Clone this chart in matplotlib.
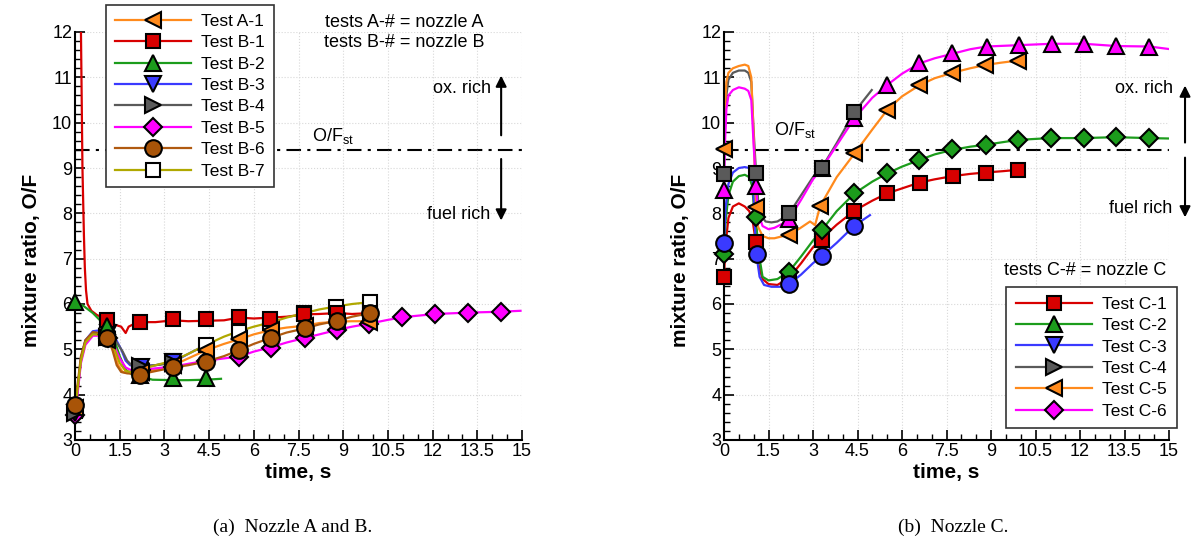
import matplotlib
matplotlib.use('Agg')
import matplotlib.pyplot as plt
from matplotlib.lines import Line2D
from matplotlib.ticker import MultipleLocator

plt.rcParams['font.family'] = ['Liberation Sans', 'DejaVu Sans']
plt.rcParams['mathtext.fontset'] = 'custom'
plt.rcParams['mathtext.rm'] = 'Liberation Sans'
plt.rcParams['mathtext.it'] = 'Liberation Sans'

OF_ST = 9.4

# ---------------- nozzle A and B (left) ----------------
t_a1 = [0, 0.1, 0.2, 0.35, 0.6, 0.9, 1.1, 1.3, 1.45, 1.6, 1.8, 2.2, 2.7, 3.3, 3.8, 4.4, 5.0, 5.5, 6.0, 6.6, 7.1, 7.7, 8.2, 8.8, 9.3, 9.9]
of_a1 = [3.7, 4.2, 4.75, 5.15, 5.33, 5.3, 5.2, 4.95, 4.65, 4.5, 4.48, 4.5, 4.55, 4.65, 4.8, 4.98, 5.12, 5.22, 5.33, 5.43, 5.48, 5.52, 5.58, 5.61, 5.62, 5.62]
tm_a1 = [0, 1.06, 2.2, 3.3, 4.38, 5.5, 6.59, 7.71, 8.79, 9.87]
om_a1 = [3.7, 5.2, 4.5, 4.65, 4.98, 5.22, 5.43, 5.51, 5.61, 5.61]

t_b1 = [0.2, 0.25, 0.3, 0.33, 0.37, 0.42, 0.55, 0.73, 1.08, 1.3, 1.55, 1.7, 1.8, 1.95, 2.2, 2.7, 3.3, 3.8, 4.4, 5.0, 5.5, 6.0, 6.6, 7.1, 7.7, 8.2, 8.8, 9.3, 9.9]
of_b1 = [12, 9, 7.5, 6.8, 6.3, 6.0, 5.85, 5.76, 5.65, 5.55, 5.5, 5.36, 5.5, 5.55, 5.6, 5.6, 5.64, 5.62, 5.63, 5.64, 5.7, 5.68, 5.7, 5.72, 5.77, 5.78, 5.8, 5.78, 5.8]
tm_b1 = [1.08, 2.18, 3.3, 4.38, 5.5, 6.56, 7.68, 8.8, 9.9]
om_b1 = [5.65, 5.61, 5.66, 5.66, 5.71, 5.68, 5.79, 5.8, 5.8]

t_b2 = [0, 0.3, 0.6, 0.9, 1.1, 1.3, 1.5, 1.7, 1.9, 2.2, 2.6, 3.3, 3.8, 4.4, 4.9]
of_b2 = [6.05, 5.95, 5.8, 5.6, 5.5, 5.25, 4.85, 4.55, 4.45, 4.4, 4.33, 4.32, 4.32, 4.33, 4.35]
tm_b2 = [0, 1.08, 2.18, 3.3, 4.38]
om_b2 = [6.05, 5.52, 4.43, 4.36, 4.37]

t_b3 = [0, 0.1, 0.2, 0.35, 0.6, 0.85, 1.1, 1.35, 1.55, 1.7, 1.85, 2.05, 2.2, 2.7, 3.3, 3.8, 4.4]
of_b3 = [3.6, 4.2, 4.8, 5.2, 5.4, 5.42, 5.35, 5.25, 5.0, 4.75, 4.65, 4.62, 4.62, 4.65, 4.72, 4.9, 5.1]
tm_b3 = [0, 1.1, 2.2, 3.3]
om_b3 = [3.6, 5.35, 4.62, 4.72]

t_b4 = [0, 0.1, 0.2, 0.35, 0.6, 0.85, 1.1, 1.35, 1.6, 1.75, 1.9, 2.2, 2.7, 3.3]
of_b4 = [3.6, 4.2, 4.8, 5.2, 5.35, 5.35, 5.3, 5.2, 4.95, 4.75, 4.65, 4.63, 4.65, 4.7]
tm_b4 = [0, 1.06, 2.18, 3.3]
om_b4 = [3.6, 5.28, 4.63, 4.69]

t_b5 = [0, 0.1, 0.2, 0.35, 0.6, 0.85, 1.1, 1.3, 1.5, 1.7, 1.85, 2.2, 2.7, 3.3, 3.8, 4.4, 5.0, 5.5, 6.0, 6.6, 7.1, 7.7, 8.2, 8.8, 9.3, 9.9, 10.5, 11.0, 12.1, 13.2, 14.3, 14.95]
of_b5 = [3.55, 4.1, 4.7, 5.1, 5.3, 5.3, 5.25, 5.1, 4.8, 4.6, 4.55, 4.55, 4.58, 4.62, 4.68, 4.75, 4.8, 4.84, 4.95, 5.05, 5.15, 5.25, 5.33, 5.43, 5.5, 5.57, 5.65, 5.71, 5.78, 5.81, 5.83, 5.85]
tm_b5 = [0, 1.1, 2.2, 3.3, 4.4, 5.5, 6.59, 7.71, 8.79, 9.87, 10.98, 12.09, 13.19, 14.28]
om_b5 = [3.55, 5.25, 4.55, 4.62, 4.75, 4.82, 5.04, 5.24, 5.43, 5.56, 5.71, 5.78, 5.81, 5.83]

t_b6 = [0, 0.1, 0.2, 0.35, 0.6, 0.9, 1.1, 1.25, 1.4, 1.55, 1.75, 2.2, 2.7, 3.3, 3.8, 4.4, 5.0, 5.5, 6.0, 6.6, 7.1, 7.7, 8.2, 8.8, 9.3, 9.9, 10.1]
of_b6 = [3.77, 4.3, 4.85, 5.2, 5.38, 5.35, 5.25, 5.0, 4.65, 4.5, 4.47, 4.45, 4.52, 4.6, 4.65, 4.73, 4.85, 4.98, 5.12, 5.26, 5.37, 5.46, 5.55, 5.63, 5.72, 5.8, 5.82]
tm_b6 = [0, 1.08, 2.18, 3.3, 4.38, 5.5, 6.59, 7.71, 8.79, 9.91]
om_b6 = [3.77, 5.25, 4.43, 4.62, 4.73, 4.98, 5.26, 5.46, 5.63, 5.81]

t_b7 = [0, 0.1, 0.2, 0.35, 0.6, 0.9, 1.1, 1.3, 1.5, 1.7, 1.9, 2.2, 2.7, 3.3, 3.8, 4.4, 5.0, 5.5, 6.0, 6.6, 7.1, 7.7, 8.2, 8.8, 9.3, 9.9, 10.1]
of_b7 = [3.65, 4.2, 4.75, 5.15, 5.33, 5.32, 5.25, 5.05, 4.7, 4.52, 4.5, 4.55, 4.65, 4.75, 4.9, 5.1, 5.28, 5.4, 5.5, 5.6, 5.7, 5.8, 5.88, 5.95, 6.0, 6.04, 6.05]
tm_b7 = [0, 1.08, 2.2, 3.3, 4.38, 5.5, 6.56, 7.68, 8.77, 9.89]
om_b7 = [3.65, 5.25, 4.55, 4.75, 5.09, 5.39, 5.59, 5.81, 5.94, 6.05]

labels_ab = ['Test A-1', 'Test B-1', 'Test B-2', 'Test B-3', 'Test B-4', 'Test B-5', 'Test B-6', 'Test B-7']

# ---------------- nozzle C (right) ----------------
t_c1 = [0, 0.05, 0.15, 0.3, 0.5, 0.7, 0.85, 0.95, 1.02, 1.08, 1.15, 1.3, 1.5, 1.8, 2.2, 2.6, 3.0, 3.3, 3.8, 4.4, 5.0, 5.5, 6.0, 6.6, 7.1, 7.7, 8.3, 8.8, 9.4, 9.9]
of_c1 = [6.6, 7.3, 7.9, 8.15, 8.22, 8.15, 8.05, 7.9, 7.6, 7.3, 6.9, 6.55, 6.44, 6.42, 6.58, 6.9, 7.25, 7.45, 7.75, 8.06, 8.28, 8.44, 8.55, 8.68, 8.75, 8.82, 8.87, 8.9, 8.93, 8.96]
tm_c1 = [0, 1.08, 2.2, 3.31, 4.39, 5.5, 6.6, 7.73, 8.83, 9.92]
om_c1 = [6.6, 7.37, 6.6, 7.41, 8.06, 8.44, 8.68, 8.82, 8.9, 8.96]

t_c2 = [0, 0.05, 0.15, 0.3, 0.5, 0.7, 0.85, 0.95, 1.0, 1.08, 1.15, 1.3, 1.5, 1.8, 2.2, 2.6, 3.0, 3.3, 3.8, 4.4, 5.0, 5.5, 6.0, 6.6, 7.1, 7.7, 8.3, 8.8, 9.9, 11.0, 12.1, 13.2, 14.3, 15.05]
of_c2 = [7.05, 7.8, 8.4, 8.7, 8.82, 8.85, 8.8, 8.6, 8.2, 7.9, 7.2, 6.6, 6.52, 6.55, 6.72, 7.05, 7.4, 7.63, 8.05, 8.44, 8.7, 8.88, 9.03, 9.18, 9.3, 9.4, 9.47, 9.51, 9.62, 9.66, 9.66, 9.68, 9.66, 9.65]
tm_c2 = [0, 1.08, 2.2, 3.31, 4.39, 5.48, 6.58, 7.7, 8.83, 9.92, 11.02, 12.13, 13.23, 14.33]
om_c2 = [7.1, 7.93, 6.71, 7.63, 8.44, 8.88, 9.18, 9.42, 9.51, 9.62, 9.66, 9.66, 9.68, 9.66]

t_c3 = [0, 0.05, 0.15, 0.3, 0.5, 0.7, 0.85, 0.95, 1.0, 1.05, 1.1, 1.2, 1.35, 1.6, 1.9, 2.2, 2.6, 3.0, 3.3, 3.8, 4.4, 4.92]
of_c3 = [7.35, 8.1, 8.65, 8.9, 9.0, 9.02, 9.0, 8.9, 8.4, 7.6, 7.05, 6.6, 6.42, 6.38, 6.38, 6.44, 6.65, 6.9, 7.06, 7.35, 7.73, 7.96]
tm_c3 = [0, 1.1, 2.2, 3.31, 4.39]
om_c3 = [7.34, 7.1, 6.44, 7.06, 7.73]

t_c4 = [0, 0.03, 0.08, 0.15, 0.3, 0.5, 0.7, 0.82, 0.92, 1.0, 1.08, 1.15, 1.25, 1.4, 1.6, 1.8, 2.0, 2.2, 2.6, 3.0, 3.3, 3.8, 4.4, 4.98]
of_c4 = [8.87, 9.8, 10.6, 10.95, 11.1, 11.15, 11.15, 11.1, 10.9, 9.8, 8.9, 8.3, 7.95, 7.82, 7.8, 7.82, 7.9, 8.0, 8.4, 8.8, 9.01, 9.55, 10.24, 10.72]
tm_c4 = [0, 1.08, 2.2, 3.31, 4.39]
om_c4 = [8.87, 8.9, 8.0, 9.01, 10.24]

t_c5 = [0, 0.03, 0.08, 0.15, 0.3, 0.5, 0.7, 0.82, 0.92, 1.0, 1.08, 1.15, 1.3, 1.5, 1.7, 2.0, 2.2, 2.56, 2.9, 3.07, 3.24, 3.8, 4.4, 5.0, 5.5, 6.0, 6.6, 7.1, 7.7, 8.3, 8.8, 9.3, 9.9]
of_c5 = [9.43, 10.3, 10.9, 11.1, 11.2, 11.25, 11.28, 11.25, 11.0, 9.7, 8.15, 7.7, 7.5, 7.45, 7.45, 7.5, 7.53, 7.67, 7.82, 7.74, 8.16, 8.8, 9.32, 9.85, 10.28, 10.58, 10.83, 10.98, 11.1, 11.2, 11.27, 11.32, 11.37]
tm_c5 = [0, 1.08, 2.2, 3.24, 4.39, 5.48, 6.58, 7.67, 8.79, 9.9]
om_c5 = [9.43, 8.15, 7.52, 8.16, 9.32, 10.28, 10.83, 11.1, 11.27, 11.37]

t_c6 = [0, 0.03, 0.08, 0.15, 0.3, 0.5, 0.7, 0.82, 0.92, 1.0, 1.08, 1.15, 1.3, 1.5, 1.7, 2.0, 2.2, 2.6, 3.0, 3.3, 3.8, 4.4, 5.0, 5.5, 6.0, 6.6, 7.1, 7.7, 8.3, 8.85, 9.95, 11.04, 12.14, 13.23, 14.34, 15.05]
of_c6 = [8.52, 9.5, 10.3, 10.6, 10.72, 10.78, 10.75, 10.7, 10.5, 9.5, 8.6, 8.0, 7.72, 7.65, 7.68, 7.78, 7.88, 8.3, 8.75, 9.0, 9.5, 10.1, 10.55, 10.83, 11.08, 11.31, 11.42, 11.52, 11.62, 11.68, 11.71, 11.74, 11.74, 11.69, 11.68, 11.62]
tm_c6 = [0, 1.08, 2.2, 3.3, 4.39, 5.48, 6.58, 7.7, 8.85, 9.95, 11.04, 12.14, 13.23, 14.34]
om_c6 = [8.52, 8.6, 7.88, 9.0, 10.1, 10.83, 11.31, 11.53, 11.68, 11.71, 11.74, 11.74, 11.69, 11.68]

labels_c = ['Test C-1', 'Test C-2', 'Test C-3', 'Test C-4', 'Test C-5', 'Test C-6']

# styles
orange, red, green, blue = '#ff8a1c', '#d80000', '#1c9c1c', '#3a3aff'
gray, magenta, brown, olive = '#5a5a5a', '#ff00ff', '#b05a10', '#b0a800'

style_ab = [(orange, '<', orange), (red, 's', red), (green, '^', green), (blue, 'v', blue),
            (gray, '>', gray), (magenta, 'D', magenta), (brown, 'o', '#a85408'), (olive, 's', 'white')]
data_ab = [(t_a1, of_a1, tm_a1, om_a1), (t_b1, of_b1, tm_b1, om_b1), (t_b2, of_b2, tm_b2, om_b2),
           (t_b3, of_b3, tm_b3, om_b3), (t_b4, of_b4, tm_b4, om_b4), (t_b5, of_b5, tm_b5, om_b5),
           (t_b6, of_b6, tm_b6, om_b6), (t_b7, of_b7, tm_b7, om_b7)]
order_ab = [7, 5, 3, 4, 1, 2, 0, 6]   # marker stacking order

# the plotted markers on nozzle C do not match its legend
style_c_plot = [(red, 's', red), (green, 'D', green), (blue, 'o', blue),
                (gray, 's', gray), (orange, '<', orange), (magenta, '^', magenta)]
style_c_leg = [(red, 's', red), (green, '^', green), (blue, 'v', blue),
               (gray, '>', gray), (orange, '<', orange), (magenta, 'D', magenta)]
data_c = [(t_c1, of_c1, tm_c1, om_c1), (t_c2, of_c2, tm_c2, om_c2), (t_c3, of_c3, tm_c3, om_c3),
          (t_c4, of_c4, tm_c4, om_c4), (t_c5, of_c5, tm_c5, om_c5), (t_c6, of_c6, tm_c6, om_c6)]
order_c = [5, 0, 1, 2, 4, 3]

msize = {'o': 12, 's': 10, 'D': 9, '<': 11, '>': 11, '^': 11, 'v': 11}

W, H = 1191, 542
fig = plt.figure(figsize=(W / 100, H / 100), dpi=100)
axL = fig.add_axes([75 / W, 1 - 440 / H, 447 / W, 408 / H])
axR = fig.add_axes([724 / W, 1 - 440 / H, 445 / W, 408 / H])


def setup(ax):
    ax.set_xlim(0, 15)
    ax.set_ylim(3, 12)
    ax.xaxis.set_minor_locator(MultipleLocator(0.5))
    ax.yaxis.set_major_locator(MultipleLocator(1))
    ax.yaxis.set_minor_locator(MultipleLocator(0.2))
    ax.set_xticks([0, 1.5, 3, 4.5, 6, 7.5, 9, 10.5, 12, 13.5, 15])
    ax.set_xticklabels(['0', '1.5', '3', '4.5', '6', '7.5', '9', '10.5', '12', '13.5', '15'])
    ax.tick_params(which='major', direction='in', length=7, width=1.2, labelsize=13, pad=2)
    ax.tick_params(which='minor', direction='in', length=4, width=1)
    for s in ['top', 'right']:
        ax.spines[s].set_visible(False)
    for s in ['left', 'bottom']:
        ax.spines[s].set_linewidth(1.5)
    ax.grid(True, which='major', color='#d8d8d8', ls=':', lw=0.8)
    ax.set_xlabel('time, s', fontsize=15, fontweight='bold', labelpad=2)
    ax.set_ylabel('mixture ratio, O/F', fontsize=15, fontweight='bold')
    ax.yaxis.set_label_coords(-0.076, 0.44)
    ax.axhline(OF_ST, color='k', lw=1.5, ls=(0, (7, 3, 1.5, 3)), zorder=1)


def draw(ax, data, styles, order):
    for (t, of, tm, om), (c, m, fc) in zip(data, styles):
        ax.plot(t, of, color=c, lw=1.6, zorder=2)
    for i in order:
        t, of, tm, om = data[i]
        c, m, fc = styles[i]
        ax.plot(tm, om, ls='none', marker=m, ms=msize[m], mfc=fc, mec='k', mew=1.5,
                clip_on=False, zorder=3)


def handles(styles):
    return [Line2D([], [], color=c, lw=1.6, marker=m, ms=msize[m], mfc=fc, mec='k', mew=1.5)
            for c, m, fc in styles]


setup(axL)
setup(axR)
draw(axL, data_ab, style_ab, order_ab)
draw(axR, data_c, style_c_plot, order_c)

# left annotations
axL.text(11.05, 12.22, 'tests A-# = nozzle A', ha='center', va='center', fontsize=13)
axL.text(11.05, 11.76, 'tests B-# = nozzle B', ha='center', va='center', fontsize=13)
axL.text(7.95, 9.6, r'O/F$_{\rm st}$', fontsize=13, va='baseline')
axL.annotate('', xy=(14.3, 11.1), xytext=(14.3, 9.66),
             arrowprops=dict(arrowstyle='-|>', color='k', lw=1.5, mutation_scale=16))
axL.annotate('', xy=(14.3, 7.78), xytext=(14.3, 9.26),
             arrowprops=dict(arrowstyle='-|>', color='k', lw=1.5, mutation_scale=16))
axL.text(13.95, 10.76, 'ox. rich', ha='right', va='center', fontsize=13)
axL.text(13.95, 7.98, 'fuel rich', ha='right', va='center', fontsize=13)

# right annotations
axR.text(12.17, 6.75, 'tests C-# = nozzle C', ha='center', va='center', fontsize=13)
axR.text(1.7, 9.73, r'O/F$_{\rm st}$', fontsize=13, va='baseline')
axR.annotate('', xy=(15.54, 10.88), xytext=(15.54, 9.5), annotation_clip=False,
             arrowprops=dict(arrowstyle='-|>', color='k', lw=1.5, mutation_scale=16))
axR.annotate('', xy=(15.54, 7.85), xytext=(15.54, 9.29), annotation_clip=False,
             arrowprops=dict(arrowstyle='-|>', color='k', lw=1.5, mutation_scale=16))
axR.text(15.12, 10.76, 'ox. rich', ha='right', va='center', fontsize=13)
axR.text(15.12, 8.1, 'fuel rich', ha='right', va='center', fontsize=13)

leg_kw = dict(loc='upper left', fontsize=12.5, handlelength=4.4, labelspacing=0.36, handletextpad=0.6,
              borderaxespad=0, fancybox=False, edgecolor='#333333', framealpha=1)
legL = fig.legend(handles(style_ab), labels_ab, bbox_to_anchor=(106 / W, 1 - 5 / H), borderpad=0.5, **leg_kw)
legR = fig.legend(handles(style_c_leg), labels_c, bbox_to_anchor=(1006 / W, 1 - 287 / H), borderpad=0.55, **leg_kw)
legL.get_frame().set_linewidth(1.2)
legR.get_frame().set_linewidth(1.2)

fig.text(293 / W, 1 - 527 / H, '(a)  Nozzle A and B.', ha='center', va='center', fontsize=14,
         family='Liberation Serif')
fig.text(953 / W, 1 - 527 / H, '(b)  Nozzle C.', ha='center', va='center', fontsize=14,
         family='Liberation Serif')

fig.savefig('out.png', dpi=100)
